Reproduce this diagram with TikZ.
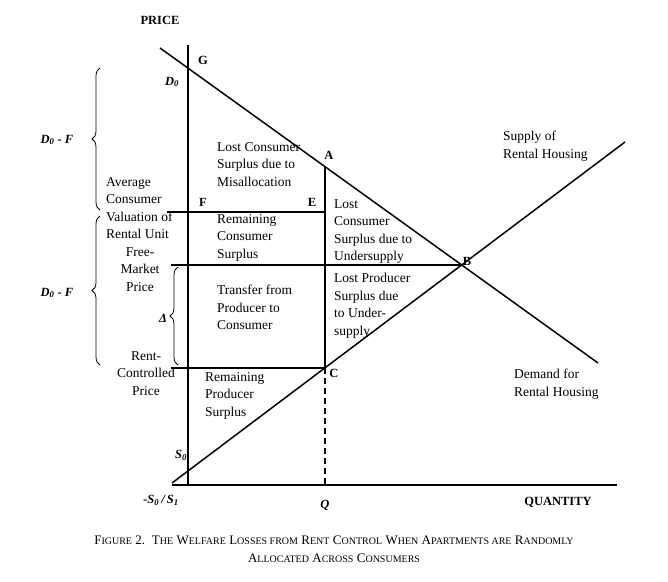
\documentclass[tikz,border=0pt]{standalone}
\usepackage{fontspec}
\setmainfont{Liberation Serif}
\usetikzlibrary{decorations.pathreplacing}
\newcommand{\smc}[2]{{\fontsize{13}{15}\selectfont #1}{\fontsize{10}{15}\selectfont #2}}
\begin{document}
\begin{tikzpicture}[x=1pt,y=-1pt,line join=miter,
  lbl/.style={font=\fontsize{13.5}{17.5}\selectfont, inner sep=0pt},
  blk/.style={lbl, align=left, anchor=north west},
  ctr/.style={lbl, align=center, anchor=north},
  pt/.style={lbl, font=\fontsize{12.5}{14}\selectfont\bfseries},
  pti/.style={lbl, font=\fontsize{12.5}{14}\selectfont\bfseries\itshape},
  ln/.style={line width=1.5pt},
  ax/.style={line width=2.2pt},
  br/.style={decorate, decoration={brace, amplitude=8pt}, line width=0.8pt}]
\useasboundingbox (0,0) rectangle (668,581);
% coordinates
\coordinate (Ytop) at (188,45);
\coordinate (O) at (188,485);
\coordinate (Xl) at (172,485);
\coordinate (Xr) at (617,485);
\coordinate (Dt) at (160,48);
\coordinate (De) at (598,363);
\coordinate (St) at (172,483);
\coordinate (Se) at (625,142);
\coordinate (A) at (325,166.5);
\coordinate (B) at (462,265);
\coordinate (C) at (325,368);
\coordinate (Fl) at (167,212);
\coordinate (E) at (325,212);
\coordinate (Pl) at (171,265);
\coordinate (Rl) at (171,368);
\coordinate (Qb) at (325,485);
% axes
\draw[ax] (Ytop) -- (O);
\draw[ax] (Xl) -- (Xr);
% curves
\draw[ln] (Dt) -- (De);
\draw[ln] (St) -- (Se);
\draw[ln] (A) -- (C);
\draw[ln, dash pattern=on 6pt off 4pt] (C) -- (Qb);
\draw[ln] (Fl) -- (E);
\draw[ln] (Pl) -- (B);
\draw[ln] (Rl) -- (C);
% braces
\draw[br] (100,210) -- (100,68);
\draw[br] (100,365) -- (100,216);
\draw[br] (178,365) -- (178,267);
% labels
\node[pt] (price) at (160,20) {PRICE};
\node[pt] (lG) at (203,60) {G};
\node[pti] (lD0) at (172,82) {D\textsubscript{0}};
\node[pt] (lA) at (329,155) {A};
\node[pt] (lF) at (203,202) {F};
\node[pt] (lE) at (312,202) {E};
\node[pt] (lB) at (467,261) {B};
\node[pt] (lC) at (334,373) {C};
\node[pti] (lS0) at (181,455) {S\textsubscript{0}};
\node[pti] (lS) at (161,500) {-S\textsubscript{0}\,/\,S\textsubscript{1}};
\node[pti] (lQ) at (325,505) {Q};
\node[pt] (lQty) at (558,502) {QUANTITY};
\node[pti] (dfa) at (57,140) {D\textsubscript{0} - F};
\node[pti] (dfb) at (57,293) {D\textsubscript{0} - F};
\node[pti] (dl) at (163,318) {Δ};
\node[blk] (t1) at (217,142) {Lost Consumer\\Surplus due to\\Misallocation};
\node[blk] (t2) at (106,177) {Average\\Consumer\\Valuation of\\Rental Unit};
\node[blk] (t3) at (217,214) {Remaining\\Consumer\\Surplus};
\node[blk] (t4) at (334,199) {Lost\\Consumer\\Surplus due to\\Undersupply};
\node[ctr] (t5) at (140,247) {Free-\\Market\\Price};
\node[blk] (t6) at (217,285) {Transfer from\\Producer to\\Consumer};
\node[blk] (t7) at (334,273) {Lost Producer\\Surplus due\\to Under-\\supply};
\node[ctr] (t8) at (146,351) {Rent-\\Controlled\\Price};
\node[blk] (t9) at (205,372) {Remaining\\Producer\\Surplus};
\node[blk] (t10) at (503,131) {Supply of\\Rental Housing};
\node[blk] (t11) at (514,369) {Demand for\\Rental Housing};
\node[lbl, align=center] (cap) at (334,549) {\smc{F}{IGURE} \smc{2.}{}\ \ \smc{T}{HE} \smc{W}{ELFARE} \smc{L}{OSSES FROM} \smc{R}{ENT} \smc{C}{ONTROL} \smc{W}{HEN} \smc{A}{PARTMENTS ARE} \smc{R}{ANDOMLY}\\[1pt]\smc{A}{LLOCATED} \smc{A}{CROSS} \smc{C}{ONSUMERS}};
\end{tikzpicture}
\end{document}
